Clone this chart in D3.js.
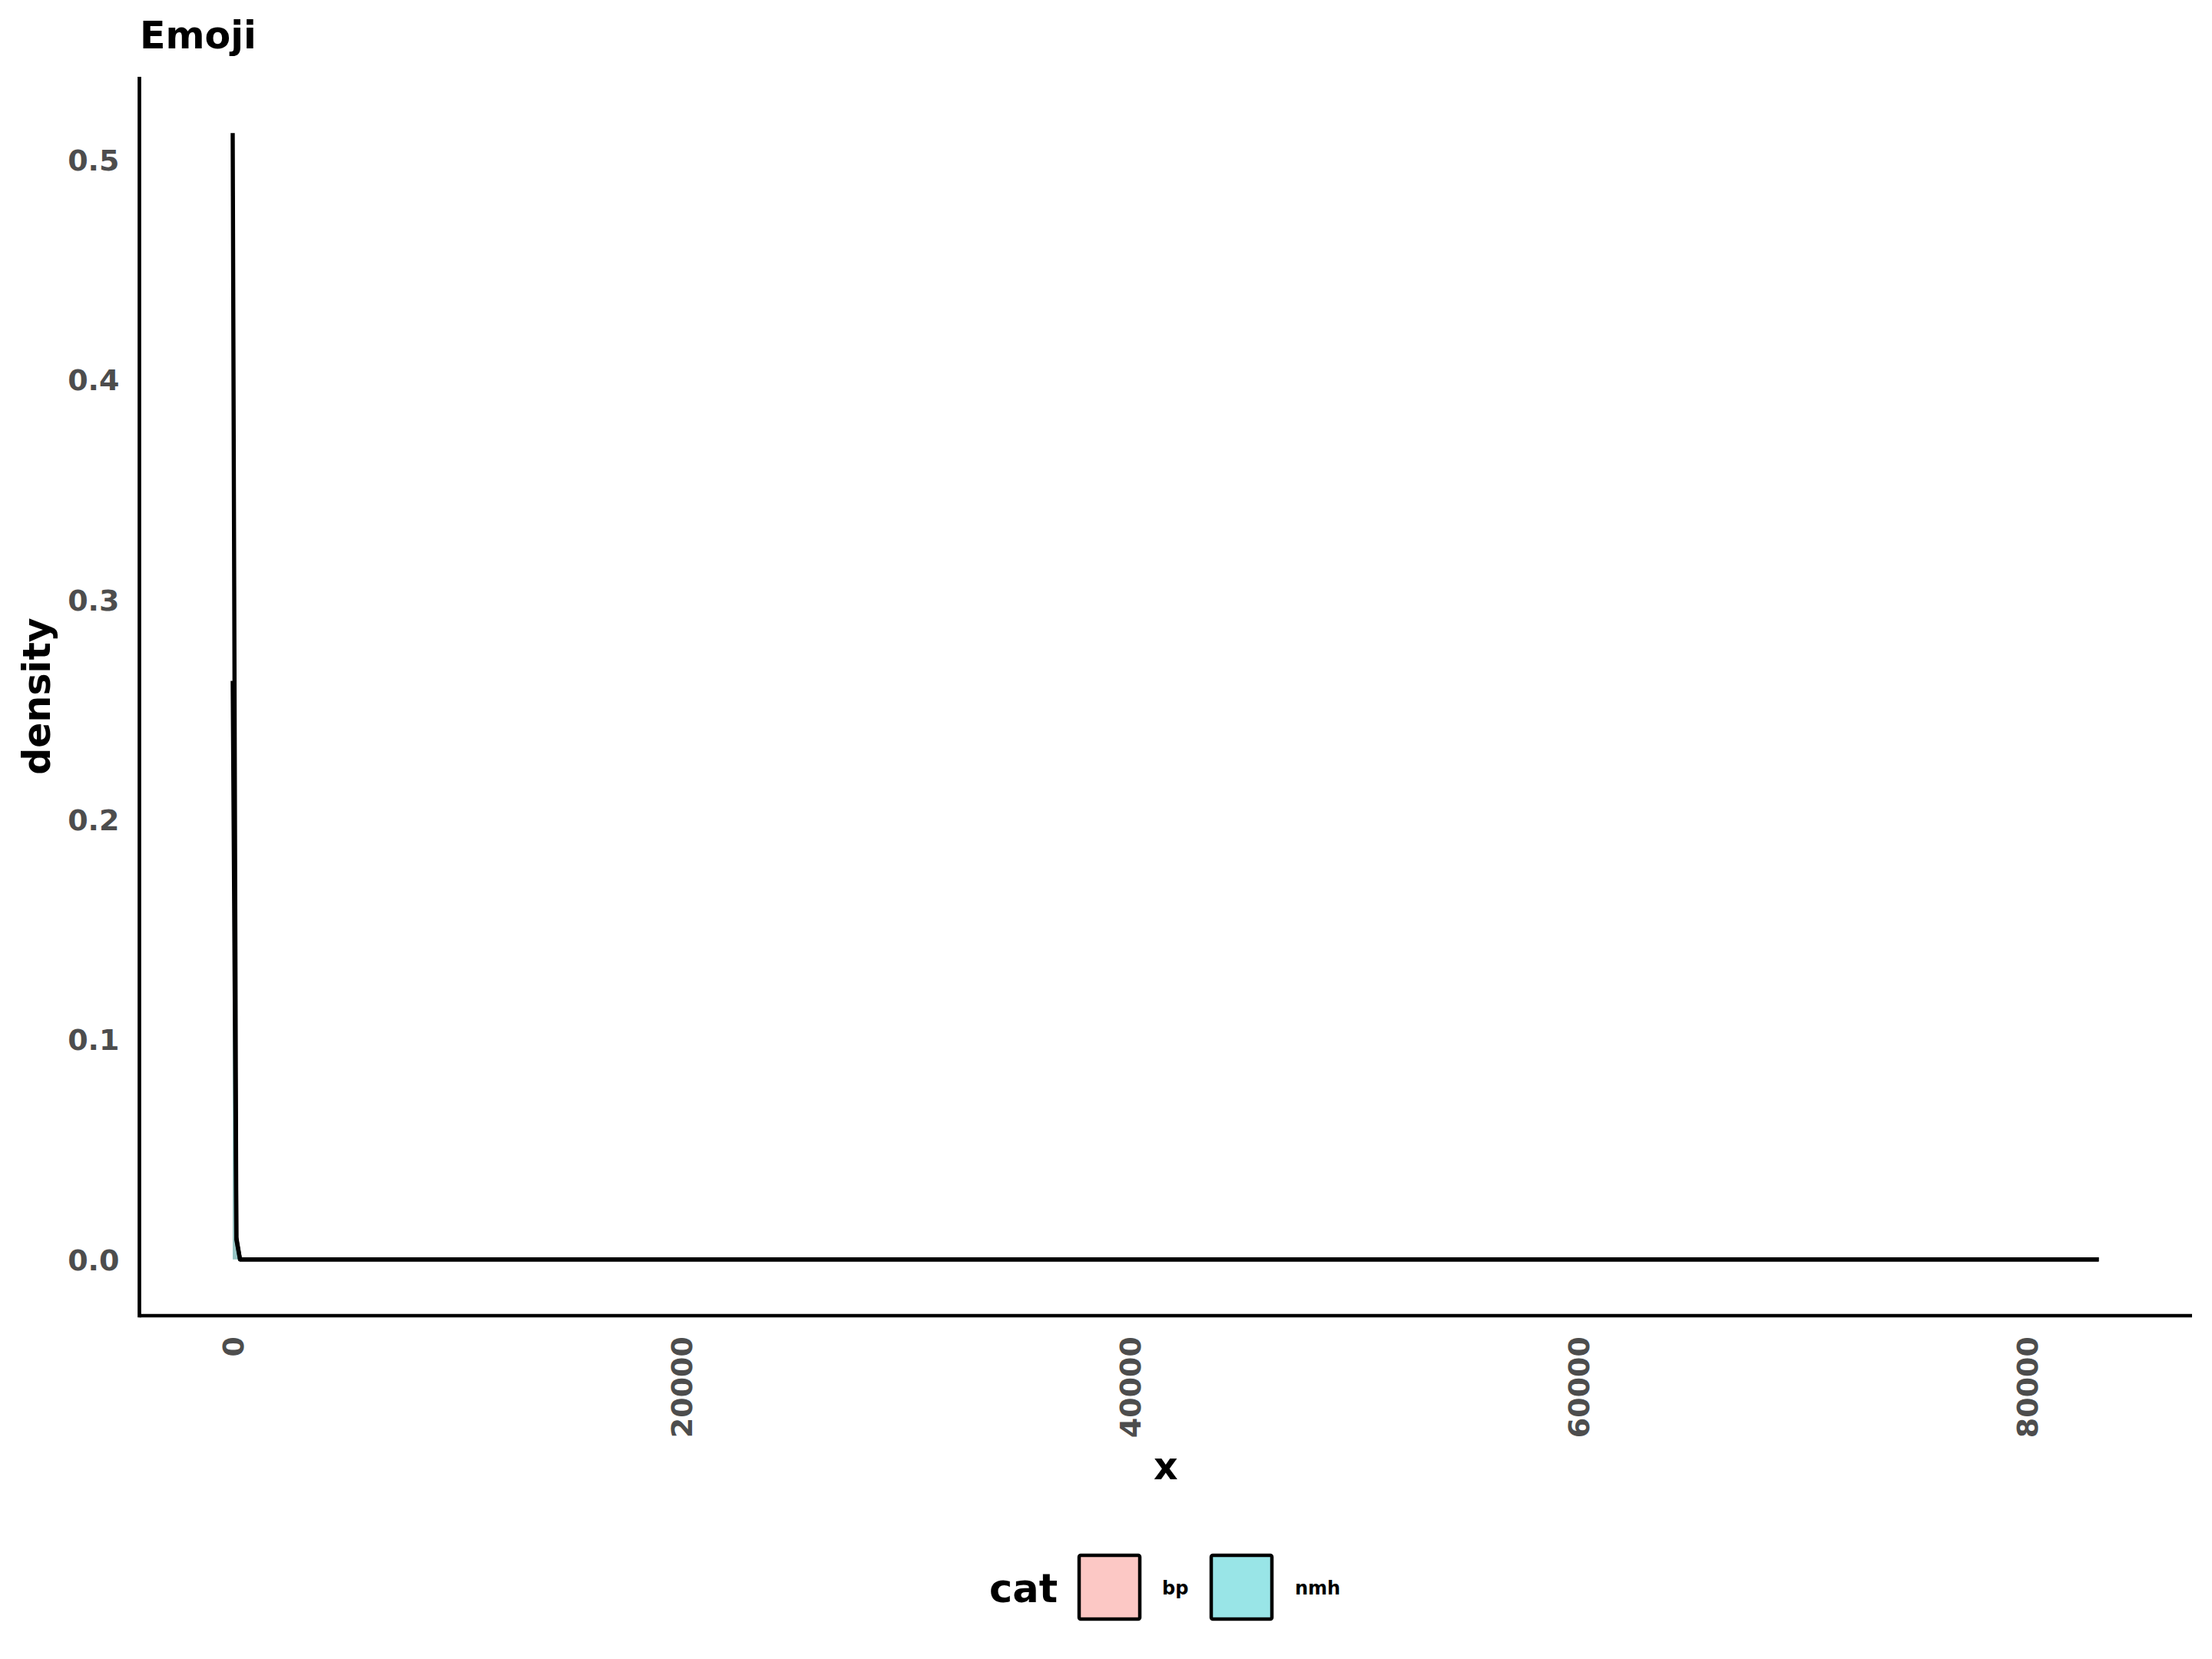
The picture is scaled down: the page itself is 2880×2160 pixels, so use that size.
<!DOCTYPE html>
<html>
<head>
<meta charset="utf-8">
<script src="https://cdn.jsdelivr.net/npm/d3@7"></script>
<style>
  html, body { margin: 0; padding: 0; background: #fff; }
  svg { display: block; }
  text { font-family: "DejaVu Sans", sans-serif; font-weight: bold; }
</style>
</head>
<body>
<svg id="chart" width="2880" height="2160"></svg>
<script>
// ---- data ----
const categories = ["bp", "nmh"];
const gridX = [0, 163, 326, 83200];          // density evaluation points (x)
const bpDensity  = [0.512, 0.010, 0, 0];
const nmhDensity = [0.263, 0.009, 0, 0];
const xTicks = [0, 20000, 40000, 60000, 80000];
const yTicks = [0.0, 0.1, 0.2, 0.3, 0.4, 0.5];
const fillColors = ["rgba(248,118,109,0.4)", "rgba(0,191,196,0.4)"];

const series = [
  { cat: categories[0], values: gridX.map((x, i) => ({ x, y: bpDensity[i] })) },
  { cat: categories[1], values: gridX.map((x, i) => ({ x, y: nmhDensity[i] })) }
];

// ---- layout ----
const panel = { left: 181.5, right: 2854, top: 100, bottom: 1713 };

const xMin = d3.min(gridX), xMax = d3.max(gridX);
const xPad = (xMax - xMin) * 0.05;
const yMax = d3.max([...bpDensity, ...nmhDensity]);
const yPad = yMax * 0.05;

const x = d3.scaleLinear().domain([xMin - xPad, xMax + xPad]).range([panel.left, panel.right]);
const y = d3.scaleLinear().domain([0 - yPad, yMax + yPad]).range([panel.bottom, panel.top]);
const color = d3.scaleOrdinal().domain(categories).range(fillColors);

const svg = d3.select("#chart");

// density areas + upper outlines (per group)
const area = d3.area().x(d => x(d.x)).y0(y(0)).y1(d => y(d.y));
const line = d3.line().x(d => x(d.x)).y(d => y(d.y));

series.forEach(s => {
  svg.append("path").attr("d", area(s.values)).attr("fill", color(s.cat)).attr("stroke", "none");
  svg.append("path").attr("d", line(s.values)).attr("fill", "none")
     .attr("stroke", "#000").attr("stroke-width", 5.4).attr("stroke-linejoin", "round");
});

// axes
const xAxis = d3.axisBottom(x).tickValues(xTicks).tickSize(0).tickFormat(d3.format("d"));
const gx = svg.append("g").attr("transform", `translate(0,${panel.bottom})`).call(xAxis);
gx.select(".domain").attr("stroke", "#000").attr("stroke-width", 4.7)
  .attr("d", `M${panel.left},0H${panel.right}`);
gx.selectAll(".tick text")
  .attr("fill", "#4D4D4D").attr("font-size", 38)
  .attr("text-anchor", "end")
  .attr("transform", "translate(0,27) rotate(-90)")
  .attr("x", 0).attr("y", 0).attr("dy", "0.36em");

const yAxis = d3.axisLeft(y).tickValues(yTicks).tickSize(0).tickFormat(d3.format(".1f"));
const gy = svg.append("g").attr("transform", `translate(${panel.left},0)`).call(yAxis);
gy.select(".domain").attr("stroke", "#000").attr("stroke-width", 4.7)
  .attr("d", `M0,${panel.top}V${panel.bottom + 2.3}`);
gy.selectAll(".tick text")
  .attr("fill", "#4D4D4D").attr("font-size", 38)
  .attr("x", -26).attr("dy", "0.36em");

// titles
svg.append("text").attr("x", 182).attr("y", 63).attr("font-size", 49).attr("fill", "#000").text("Emoji");
svg.append("text").attr("x", (panel.left + panel.right) / 2).attr("y", 1926)
   .attr("text-anchor", "middle").attr("font-size", 49).attr("fill", "#000").text("x");
svg.append("text").attr("transform", `translate(65,${(panel.top + panel.bottom) / 2}) rotate(-90)`)
   .attr("text-anchor", "middle").attr("font-size", 49).attr("fill", "#000").text("density");

// legend
const legend = svg.append("g");
legend.append("text").attr("x", 1288).attr("y", 2086).attr("font-size", 51).attr("fill", "#000").text("cat");
const keyX = [1405, 1577];
const labelX = [1513, 1686];
categories.forEach((c, i) => {
  legend.append("rect").attr("x", keyX[i]).attr("y", 2025).attr("width", 79).attr("height", 83)
    .attr("rx", 2).attr("fill", color(c)).attr("stroke", "#000").attr("stroke-width", 4.5)
    .attr("stroke-linejoin", "round");
  legend.append("text").attr("x", labelX[i]).attr("y", 2076).attr("font-size", 24).attr("fill", "#000").text(c);
});
</script>
</body>
</html>
